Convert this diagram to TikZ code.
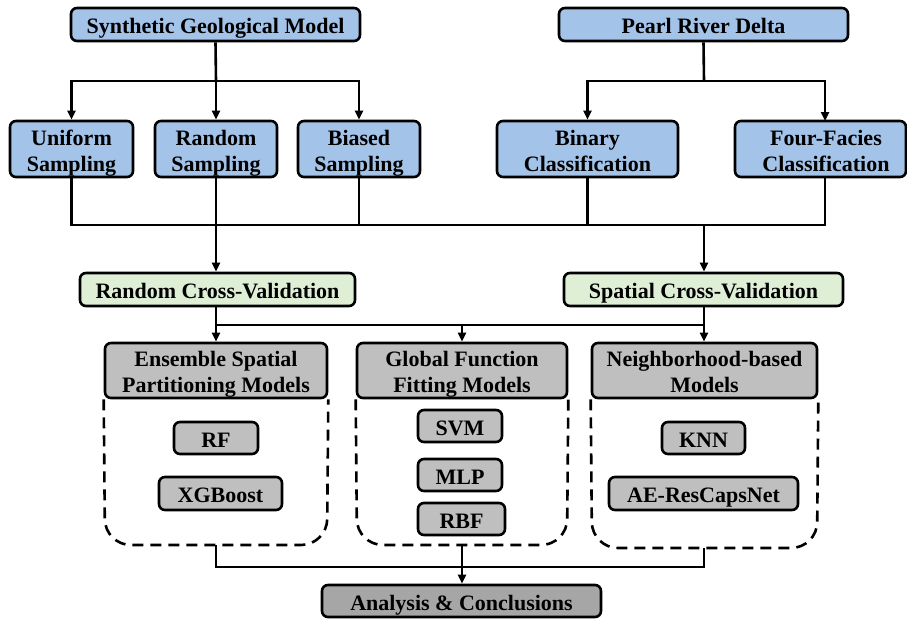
\documentclass[tikz,border=0pt]{standalone}
\usepackage{fontspec}
\setmainfont{Liberation Serif}
\usetikzlibrary{arrows.meta}
\definecolor{bluef}{HTML}{A4C3E8}
\definecolor{greenf}{HTML}{DEEFD6}
\definecolor{grayf}{HTML}{BFBFBF}
\definecolor{darkf}{HTML}{A6A6A6}
\newcommand{\tx}[1]{\raisebox{-4pt}[\height][\depth]{\begin{tabular}{@{}c@{}}#1\end{tabular}}}
\tikzset{
  box/.style={draw=black, line width=2.6pt, rounded corners=6pt,
    inner sep=0pt, font=\fontsize{22}{26}\selectfont\bfseries},
  bluebox/.style={box, fill=bluef},
  greenbox/.style={box, fill=greenf},
  graybox/.style={box, fill=grayf},
  darkbox/.style={box, fill=darkf},
  conn/.style={line width=2.6pt},
  arr/.style={conn, -{Triangle[length=9pt,width=8pt]}},
  dashbox/.style={line width=2.6pt, dash pattern=on 11pt off 7pt, rounded corners=26pt},
}
\begin{document}
\begin{tikzpicture}[x=1pt,y=-1pt]
\useasboundingbox (0,0) rectangle (907,619);
% top row
\node[bluebox, minimum width=289pt, minimum height=33pt] (sgm) at (215.5,24.5) {\tx{Synthetic Geological Model}};
\node[bluebox, minimum width=289pt, minimum height=33pt] (prd) at (703.5,24.5) {\tx{Pearl River Delta}};
% second row
\node[bluebox, minimum width=123pt, minimum height=56pt] (us) at (71.5,149) {\tx{Uniform\\Sampling}};
\node[bluebox, minimum width=122pt, minimum height=56pt] (rs) at (216,149) {\tx{Random\\Sampling}};
\node[bluebox, minimum width=122pt, minimum height=56pt] (bs) at (359,149) {\tx{Biased\\Sampling}};
\node[bluebox, minimum width=181pt, minimum height=56pt] (bc) at (587.5,149) {\tx{Binary\\Classification}};
\node[bluebox, minimum width=171pt, minimum height=56pt] (ff) at (820.5,149) {\hspace*{11pt}\tx{Four-Facies\\Classification}};
% CV row
\node[greenbox, minimum width=275pt, minimum height=33pt] (rcv) at (217.5,289.5) {\tx{Random Cross-Validation}};
\node[greenbox, minimum width=279pt, minimum height=33pt] (scv) at (703.5,289.5) {\tx{Spatial Cross-Validation}};
% model headers
\node[graybox, minimum width=222pt, minimum height=55pt] (esp) at (216,370.5) {\tx{Ensemble Spatial\\Partitioning Models}};
\node[graybox, minimum width=210pt, minimum height=55pt] (gff) at (462,370.5) {\tx{Global Function\\Fitting Models}};
\node[graybox, minimum width=225pt, minimum height=55pt] (nb) at (704.5,370.5) {\tx{Neighborhood-based\\Models}};
% dashed containers
\draw[dashbox] (esp.south west) -- (105,545) -- (327,545) -- (esp.south east);
\draw[dashbox] (gff.south west) -- (357,545) -- (567,545) -- (gff.south east);
\draw[dashbox] (nb.south west) -- (592,548) -- (817,548) -- (nb.south east);
% models
\node[graybox, minimum width=84pt, minimum height=32pt] (rf) at (216,438) {\tx{RF}};
\node[graybox, minimum width=123pt, minimum height=33pt] (xgb) at (220.5,493.5) {\tx{XGBoost}};
\node[graybox, minimum width=84pt, minimum height=32pt] (svm) at (460,426) {\tx{SVM}};
\node[graybox, minimum width=84pt, minimum height=32pt] (mlp) at (460,475) {\tx{MLP}};
\node[graybox, minimum width=87pt, minimum height=32pt] (rbf) at (461.5,519) {\tx{RBF}};
\node[graybox, minimum width=83pt, minimum height=32pt] (knn) at (703.5,438) {\tx{KNN}};
\node[graybox, minimum width=189pt, minimum height=33pt] (ae) at (703.5,493.5) {\tx{AE-ResCapsNet}};
% final
\node[darkbox, minimum width=279pt, minimum height=32pt] (ac) at (461.5,601) {\tx{Analysis \& Conclusions}};
% coordinates
\coordinate (j1) at (216,81);
\coordinate (j2) at (704,81);
\coordinate (m1) at (216,225);
\coordinate (m2) at (704,225);
\coordinate (ffin) at (825,121);
\coordinate (ffout) at (825,177);
\coordinate (c1) at (216,325);
\coordinate (c2) at (462,325);
\coordinate (c3) at (704,325);
\coordinate (eb) at (216,545);
\coordinate (gb) at (462,545);
\coordinate (nbb) at (704,548);
\coordinate (k1) at (216,567);
\coordinate (k2) at (704,567);
% top connectors
\draw[conn] (sgm.south) -- (j1);
\draw[arr] (j1) -| (us.north);
\draw[arr] (j1) -- (rs.north);
\draw[arr] (j1) -| (bs.north);
\draw[conn] (prd.south) -- (j2);
\draw[arr] (j2) -| (bc.north);
\draw[arr] (j2) -| (ffin);
% merge
\draw[conn] (us.south) |- (m2);
\draw[conn] (ffout) |- (m1);
\draw[conn] (rs.south) -- (m1);
\draw[conn] (bs.south) -- (bs.south |- m1);
\draw[conn] (bc.south) -- (bc.south |- m1);
\draw[arr] (m1) -- (rcv.north -| m1);
\draw[arr] (m2) -- (scv.north -| m2);
% CV to models
\draw[conn] (rcv.south -| c1) -- (c1);
\draw[conn] (scv.south -| c3) -- (c3);
\draw[conn] (c1) -- (c3);
\draw[arr] (c1) -- (esp.north);
\draw[arr] (c2) -- (gff.north);
\draw[arr] (c3) -- (nb.north -| c3);
% bottom
\draw[conn] (eb) -- (k1) -- (k2) -- (nbb);
\draw[arr] (gb) -- (ac.north -| gb);
\end{tikzpicture}
\end{document}
